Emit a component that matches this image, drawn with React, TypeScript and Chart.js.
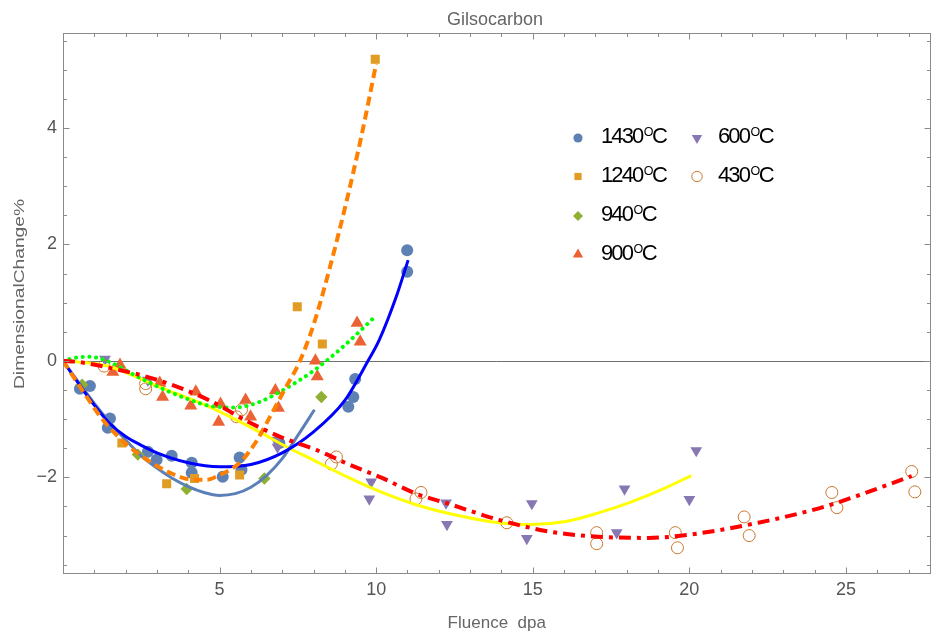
import React, { useEffect, useRef } from "react";
import { Chart, registerables } from "chart.js";
Chart.register(...registerables);

type P = [number, number];

const TITLE = "Gilsocarbon";
const X_TITLE = "Fluence  dpa";
const Y_TITLE = "DimensionalChange%";
const X_MIN = 0;
const X_MAX = 27.7;
const Y_MIN = -3.66;
const Y_MAX = 5.63;
const xTickLabels = [5, 10, 15, 20, 25];
const yTickLabels = [-2, 0, 2, 4];
const legendTemps = ["1430", "1240", "940", "900", "600", "430"];

// measured points
const pts1430: P[] = [[0.54,-0.48],[0.86,-0.43],[1.43,-1.15],[1.5,-0.99],[2.71,-1.56],[2.99,-1.7],[3.47,-1.63],[4.11,-1.75],[4.11,-1.92],[5.1,-1.99],[5.64,-1.66],[5.7,-1.87],[6.91,-1.41],[9.11,-0.79],[9.27,-0.62],[9.33,-0.31],[10.99,1.9],[10.99,1.53]];
const pts1240: P[] = [[1.88,-1.41],[3.31,-2.11],[4.2,-2.02],[5.64,-1.96],[7.48,0.93],[8.28,0.29],[9.97,5.18]];
const pts940: P[] = [[0.61,-0.41],[2.39,-1.61],[3.95,-2.2],[6.43,-2.02],[8.25,-0.62]];
const pts900: P[] = [[1.59,-0.19],[1.82,-0.07],[3.09,-0.38],[3.18,-0.62],[4.08,-0.77],[4.24,-0.53],[4.97,-1.05],[5.03,-0.74],[5.83,-0.67],[5.99,-0.96],[6.78,-0.51],[6.88,-0.81],[8.06,0.0],[8.12,-0.27],[9.39,0.65],[9.49,0.33]];
const pts600: P[] = [[1.34,0.03],[2.71,-0.33],[6.8,-1.36],[6.85,-1.48],[9.84,-2.08],[9.78,-2.37],[12.23,-2.44],[12.26,-2.81],[14.97,-2.45],[14.81,-3.05],[17.68,-2.95],[17.93,-2.2],[20.0,-2.38],[20.22,-1.54]];
const pts430: P[] = [[1.31,-0.09],[2.64,-0.39],[2.64,-0.48],[5.7,-0.84],[5.54,-0.96],[8.73,-1.65],[8.57,-1.77],[11.43,-2.26],[11.27,-2.37],[14.17,-2.78],[17.04,-2.95],[17.04,-3.14],[19.55,-2.95],[19.62,-3.21],[21.75,-2.68],[21.91,-3.0],[24.55,-2.26],[24.71,-2.52],[27.1,-1.9],[27.2,-2.25]];

// fitted curves
const fitBlue: P[] = [[0,0],[0.5,-0.39],[1,-0.76],[1.5,-1.08],[2,-1.3],[2.5,-1.45],[3,-1.58],[4,-1.75],[5,-1.82],[6,-1.78],[7,-1.58],[8,-1.22],[9,-0.68],[9.72,-0.02],[10.1,0.36],[10.64,1.1],[11.02,1.73]];
const fitSteel: P[] = [[0,0],[0.5,-0.37],[1,-0.73],[1.5,-1.06],[2,-1.36],[2.5,-1.63],[3,-1.84],[3.5,-2.02],[4,-2.16],[4.5,-2.26],[5,-2.31],[5.5,-2.28],[6,-2.17],[6.5,-1.97],[7,-1.68],[7.5,-1.28],[8.03,-0.84]];
const fitOrange: P[] = [[0,0],[0.5,-0.41],[1.27,-1.01],[2,-1.42],[2.55,-1.65],[3.41,-1.92],[4.14,-2.04],[4.6,-2.04],[5,-1.96],[5.4,-1.85],[5.7,-1.72],[6.2,-1.36],[6.59,-0.98],[7.07,-0.5],[7.55,-0.02],[8,0.62],[8.5,1.56],[9.04,2.71],[9.52,3.84],[10,5.1]];
const fitGreen: P[] = [[0,0],[0.35,0.05],[0.85,0.07],[1.5,-0.02],[2.2,-0.22],[3.1,-0.46],[3.95,-0.65],[4.75,-0.78],[5.5,-0.8],[6.25,-0.71],[7,-0.51],[7.5,-0.35],[8,-0.17],[8.5,0.04],[9,0.27],[9.5,0.52],[10,0.78]];
const fitYellow: P[] = [[0,0],[0.7,-0.03],[1.5,-0.1],[3.09,-0.45],[4.68,-0.79],[6.27,-1.22],[7.01,-1.44],[8.09,-1.73],[9.14,-2.01],[10.19,-2.26],[11.27,-2.47],[12.32,-2.62],[13.92,-2.78],[14.97,-2.81],[16.05,-2.76],[17.1,-2.61],[18.15,-2.42],[19.24,-2.18],[20.06,-1.97]];
const fitRed: P[] = [[0,0],[0.5,-0.02],[1.5,-0.12],[3.09,-0.34],[4.68,-0.68],[5.96,-1.06],[7.01,-1.32],[8.09,-1.53],[9.14,-1.78],[10.19,-2.01],[11.27,-2.28],[12.23,-2.44],[13.92,-2.73],[15.51,-2.93],[17.1,-3.02],[18.69,-3.04],[20.06,-2.98],[22.2,-2.78],[24.33,-2.5],[27.1,-1.98]];

const C1 = "#5E81B5", C2 = "#E19C24", C3 = "#8FB032", C4 = "#EB6235", C5 = "#8778B3", C6 = "#C8782E";
const FONT = '"Liberation Sans", Arial, sans-serif';

const toXY = (a: P[]) => a.map(([x, y]) => ({ x, y }));

function fmt(v: number) {
  return v < 0 ? "\u2212" + Math.abs(v) : String(v);
}

function marker(ctx: CanvasRenderingContext2D, kind: string, x: number, y: number, color: string) {
  ctx.save();
  ctx.fillStyle = color;
  ctx.strokeStyle = color;
  ctx.beginPath();
  if (kind === "circle") { ctx.arc(x, y, 4.6, 0, Math.PI * 2); ctx.fill(); }
  else if (kind === "rect") { ctx.rect(x - 3.6, y - 3.6, 7.2, 7.2); ctx.fill(); }
  else if (kind === "diamond") { ctx.moveTo(x, y - 5); ctx.lineTo(x + 5, y); ctx.lineTo(x, y + 5); ctx.lineTo(x - 5, y); ctx.closePath(); ctx.fill(); }
  else if (kind === "tri") { const r = 6; ctx.moveTo(x, y - r); ctx.lineTo(x + r * 0.866, y + r / 2); ctx.lineTo(x - r * 0.866, y + r / 2); ctx.closePath(); ctx.fill(); }
  else if (kind === "tridown") { const r = 6; ctx.moveTo(x, y + r); ctx.lineTo(x + r * 0.866, y - r / 2); ctx.lineTo(x - r * 0.866, y - r / 2); ctx.closePath(); ctx.fill(); }
  else if (kind === "open") { ctx.lineWidth = 1; ctx.arc(x, y, 5.2, 0, Math.PI * 2); ctx.stroke(); }
  ctx.restore();
}

const decorPlugin = {
  id: "decor",
  beforeDatasetsDraw(chart: any) {
    const { ctx, chartArea: a, scales } = chart;
    const y0 = Math.round(scales.y.getPixelForValue(0)) + 0.5;
    ctx.save();
    ctx.strokeStyle = "#707070";
    ctx.lineWidth = 1;
    ctx.beginPath();
    ctx.moveTo(a.left, y0);
    ctx.lineTo(a.right, y0);
    ctx.stroke();
    ctx.restore();
  },
  afterDraw(chart: any) {
    const { ctx, chartArea: a, scales } = chart;
    const xs = scales.x, ys = scales.y;
    ctx.save();
    const L = Math.round(a.left) + 0.5, R = Math.round(a.right) - 0.5, T = Math.round(a.top) + 0.5, B = Math.round(a.bottom) - 0.5;
    ctx.strokeStyle = "#8a8a8a";
    ctx.lineWidth = 1;
    ctx.strokeRect(L, T, R - L, B - T);
    ctx.beginPath();
    for (let i = Math.ceil(xs.min); i <= Math.floor(xs.max); i++) {
      if (i === 0) continue;
      const px = Math.round(xs.getPixelForValue(i)) + 0.5;
      const len = i % 5 === 0 ? 6 : 3.5;
      ctx.moveTo(px, B); ctx.lineTo(px, B - len);
      ctx.moveTo(px, T); ctx.lineTo(px, T + len);
    }
    for (let k = Math.ceil(ys.min * 2); k <= Math.floor(ys.max * 2); k++) {
      const py = Math.round(ys.getPixelForValue(k / 2)) + 0.5;
      const len = k % 4 === 0 ? 6 : 3.5;
      ctx.moveTo(L, py); ctx.lineTo(L + len, py);
      ctx.moveTo(R, py); ctx.lineTo(R - len, py);
    }
    ctx.stroke();

    // tick labels
    ctx.fillStyle = "#555555";
    ctx.font = `18px ${FONT}`;
    ctx.textAlign = "center";
    ctx.textBaseline = "middle";
    xTickLabels.forEach((v) => ctx.fillText(fmt(v), xs.getPixelForValue(v), a.bottom + 16));
    ctx.textAlign = "right";
    yTickLabels.forEach((v) => ctx.fillText(fmt(v), a.left - 6, ys.getPixelForValue(v)));

    // titles
    ctx.fillStyle = "#666666";
    ctx.textAlign = "center";
    ctx.textBaseline = "alphabetic";
    ctx.font = `18px ${FONT}`;
    ctx.fillText(TITLE, 495, 25);
    ctx.font = `17px ${FONT}`;
    ctx.fillText(X_TITLE, (a.left + a.right) / 2, 628);
    ctx.save();
    ctx.font = `15px ${FONT}`;
    const yw = ctx.measureText(Y_TITLE).width;
    ctx.translate(24, 294);
    ctx.rotate(-Math.PI / 2);
    ctx.scale(190 / yw, 1);
    ctx.fillText(Y_TITLE, 0, 0);
    ctx.restore();

    // legend
    const kinds = ["circle", "rect", "diamond", "tri", "tridown", "open"];
    const colors = [C1, C2, C3, C4, C5, C6];
    const cols = [{ mx: 578, tx: 601 }, { mx: 697, tx: 718 }];
    const rows = [135, 173.5, 213, 251.5];
    legendTemps.forEach((t, i) => {
      const c = i < 4 ? cols[0] : cols[1];
      const cy = i < 4 ? rows[i] : rows[i - 4];
      marker(ctx, kinds[i], c.mx, cy + 3, colors[i]);
      const base = cy + 8;
      ctx.fillStyle = "#000";
      ctx.textAlign = "left";
      ctx.textBaseline = "alphabetic";
      ctx.font = `22px ${FONT}`;
      (ctx as any).letterSpacing = "-1.9px";
      ctx.fillText(t, c.tx, base);
      const w = ctx.measureText(t).width;
      (ctx as any).letterSpacing = "0px";
      ctx.font = `12.5px ${FONT}`;
      const ox = c.tx + w + 1.5;
      ctx.fillText("O", ox, base - 7);
      const ow = ctx.measureText("O").width;
      ctx.font = `22px ${FONT}`;
      ctx.fillText("C", ox + ow - 1.5, base);
    });
    ctx.restore();
  },
};

export default function App() {
  const ref = useRef<HTMLCanvasElement>(null);
  useEffect(() => {
    if (!ref.current) return;
    const line = (data: P[], color: string, extra: any = {}) => ({
      data: toXY(data),
      showLine: true,
      borderColor: color,
      backgroundColor: color,
      borderWidth: 3,
      pointRadius: 0,
      fill: false,
      cubicInterpolationMode: "monotone",
      ...extra,
    });
    const pts = (data: P[], color: string, style: string, r: number, extra: any = {}) => ({
      data: toXY(data),
      showLine: false,
      pointStyle: style,
      pointRadius: r,
      backgroundColor: color,
      borderColor: color,
      borderWidth: 0,
      ...extra,
    });
    const chart = new Chart(ref.current, {
      type: "scatter",
      data: {
        datasets: [
          line(fitRed, "#FF0000", { borderWidth: 4, borderDash: [12, 6, 4, 6] }),
          line(fitOrange, "#FF7F00", { borderWidth: 4, borderDash: [9, 5] }),
          line(fitGreen, "#00FF00", { borderWidth: 4, borderDash: [0.1, 6.6], borderCapStyle: "round" }),
          line(fitBlue, "#0000FF"),
          line(fitSteel, "#5B80B8"),
          line(fitYellow, "#FFFF00"),
          pts(pts430, "rgba(0,0,0,0)", "circle", 6, { borderColor: C6, borderWidth: 1 }),
          pts(pts600, C5, "triangle", 6.8, { rotation: 180 }),
          pts(pts900, C4, "triangle", 7.5),
          pts(pts940, C3, "rectRot", 6.2),
          pts(pts1240, C2, "rect", 6.4),
          pts(pts1430, C1, "circle", 6),
        ] as any,
      },
      options: {
        responsive: false,
        animation: false,
        events: [],
        layout: { padding: { left: 63, right: 5, top: 33, bottom: 63 } },
        plugins: { legend: { display: false }, tooltip: { enabled: false }, title: { display: false } },
        scales: {
          x: { type: "linear", min: X_MIN, max: X_MAX, display: false },
          y: { type: "linear", min: Y_MIN, max: Y_MAX, display: false },
        },
      } as any,
      plugins: [decorPlugin],
    });
    return () => chart.destroy();
  }, []);
  return (
    <div style={{ position: "fixed", left: 0, top: 0, width: 938, height: 637, background: "#fff" }}>
      <canvas ref={ref} width={938} height={637} style={{ display: "block" }} />
    </div>
  );
}
